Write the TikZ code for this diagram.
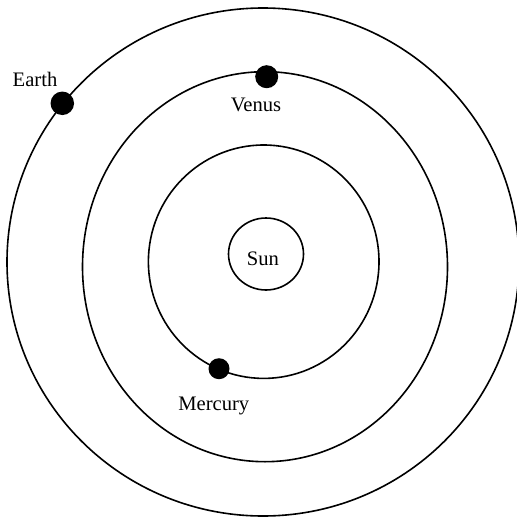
\documentclass[tikz,border=0pt]{standalone}
\usepackage{fontspec}
\setmainfont{Liberation Serif}
\usetikzlibrary{shapes.geometric}

\begin{document}
\begin{tikzpicture}[x=1pt, y=-1pt, line width=1.6pt,
    body/.style = {draw, ellipse, inner sep=0pt},
    planet/.style = {fill, circle, inner sep=0pt},
    lbl/.style = {anchor=base, font=\fontsize{20.6}{24}\selectfont}]
  \useasboundingbox (0,0) rectangle (517,517);

  % orbits
  \draw (263,262) ellipse [x radius=256, y radius=254];
  \draw (265,266.7) ellipse [x radius=182.5, y radius=195];
  \draw (263.7,261.7) ellipse [x radius=115.3, y radius=116.7];

  % sun
  \node[body, minimum width=75pt, minimum height=72pt] (sun) at (266,254) {};
  \node[lbl] (sunlbl) at (263,265) {Sun};

  % planets
  \node[planet, minimum size=23.5pt] (earth) at (62.3,103.3) {};
  \node[planet, minimum size=23pt] (venus) at (266.7,76.7) {};
  \node[planet, minimum size=21pt] (mercury) at (219,368.7) {};

  \node[lbl] (earthlbl) at (35,86) {Earth};
  \node[lbl] (venuslbl) at (256,111.7) {Venus};
  \node[lbl] (mercurylbl) at (213.8,410.7) {Mercury};
\end{tikzpicture}
\end{document}
